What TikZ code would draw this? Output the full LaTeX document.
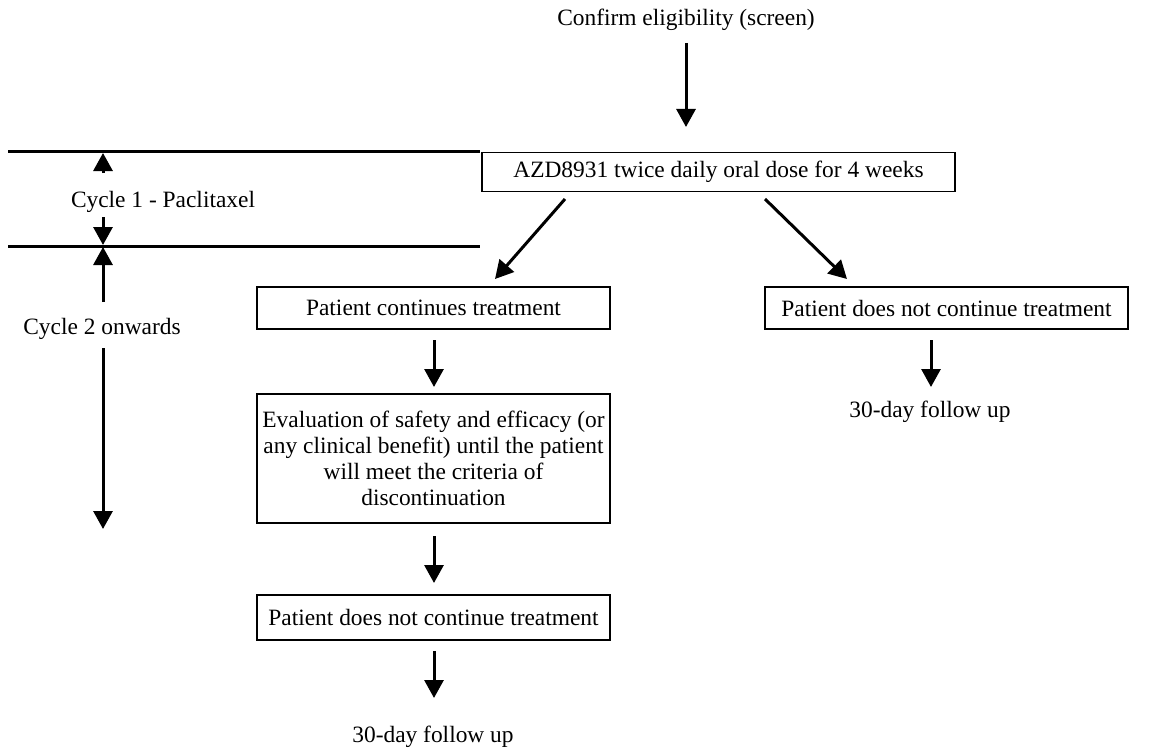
\documentclass[tikz,border=0pt]{standalone}
\usepackage{fontspec}
\setmainfont{Liberation Serif}
\usetikzlibrary{arrows.meta}
\begin{document}
\begin{tikzpicture}[x=1bp,y=-1bp,
  every node/.style={font=\fontsize{23.5}{26}\selectfont, inner sep=0pt},
  box/.style={draw, line width=1.2bp, align=center},
  arr/.style={line width=3bp, -{Triangle[width=19bp,length=18bp]}},
  band/.style={line width=3bp}]
\useasboundingbox (0,0) rectangle (1151,750);
% texts
\node (conf) at (686,20) {Confirm eligibility (screen)};
\node[box, minimum width=473bp, minimum height=39bp] (azd) at (718.5,172) {AZD8931 twice daily oral dose for 4 weeks};
\node[box, minimum width=353bp, minimum height=42bp] (cont) at (433.5,308) {Patient continues treatment};
\node[box, minimum width=363bp, minimum height=42bp] (stopr) at (946.5,308) {Patient does not continue treatment};
\node[box, minimum width=353bp, minimum height=129bp] (eval) at (433.5,458.5) {Evaluation of safety and efficacy (or\\any clinical benefit) until the patient\\will meet the criteria of\\discontinuation};
\node[box, minimum width=353bp, minimum height=45bp] (stopl) at (433.5,617.5) {Patient does not continue treatment};
\node (fur) at (930,412) {30-day follow up};
\node (ful) at (433,737) {30-day follow up};
\node (c1) at (163,202) {Cycle 1 - Paclitaxel};
\node (c2) at (102,329) {Cycle 2 onwards};
% coordinates
\coordinate (a1) at (686,43); \coordinate (a2) at (686,127);
\coordinate (d1) at (565,199); \coordinate (d2) at (495,279);
\coordinate (e1) at (765,199); \coordinate (e2) at (847,279);
\coordinate (l1a) at (434,340); \coordinate (l1b) at (434,387);
\coordinate (l2a) at (434,536); \coordinate (l2b) at (434,583);
\coordinate (l3a) at (434,651); \coordinate (l3b) at (434,698);
\coordinate (r1a) at (931,340); \coordinate (r1b) at (931,387);
\coordinate (h1a) at (8,151); \coordinate (h1b) at (480,151);
\coordinate (h2a) at (8,246); \coordinate (h2b) at (480,246);
\coordinate (u1a) at (103,173); \coordinate (u1b) at (103,153);
\coordinate (u2a) at (103,217); \coordinate (u2b) at (103,245);
\coordinate (u3a) at (103,302); \coordinate (u3b) at (103,247);
\coordinate (u4a) at (103,348); \coordinate (u4b) at (103,529);
% connectors
\draw[arr] (a1) -- (a2);
\draw[arr] (d1) -- (d2);
\draw[arr] (e1) -- (e2);
\draw[arr] (l1a) -- (l1b);
\draw[arr] (l2a) -- (l2b);
\draw[arr] (l3a) -- (l3b);
\draw[arr] (r1a) -- (r1b);
\draw[band] (h1a) -- (h1b);
\draw[band] (h2a) -- (h2b);
\draw[arr] (u1a) -- (u1b);
\draw[arr] (u2a) -- (u2b);
\draw[arr] (u3a) -- (u3b);
\draw[arr] (u4a) -- (u4b);
\end{tikzpicture}
\end{document}
